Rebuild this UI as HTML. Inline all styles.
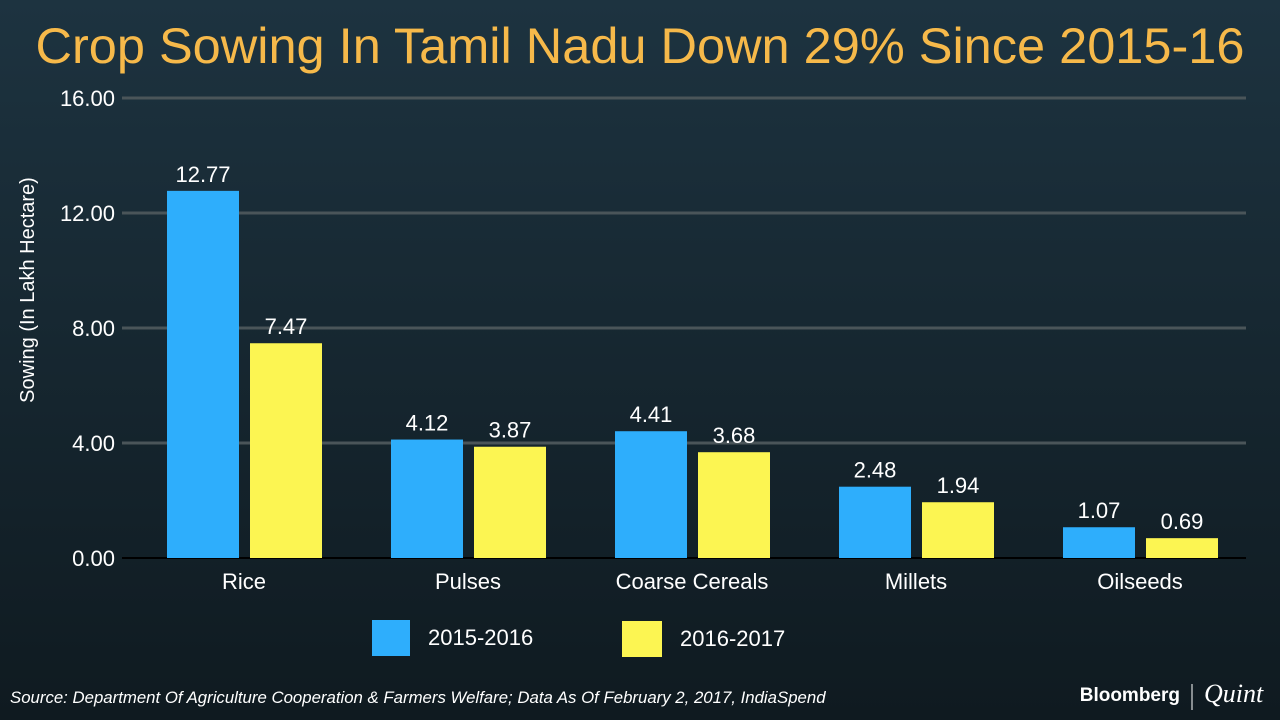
<!DOCTYPE html>
<html><head><meta charset="utf-8"><style>
html,body{margin:0;padding:0;width:1280px;height:720px;overflow:hidden}
body{background:linear-gradient(#1d3340,#0f1a20);font-family:"Liberation Sans",sans-serif}
</style></head><body>
<svg id="chart" width="1280" height="720">
<text x="640" y="63" text-anchor="middle" fill="#f6b94a" font-size="50.5">Crop Sowing In Tamil Nadu Down 29% Since 2015-16</text>
<text transform="translate(34,290) rotate(-90)" text-anchor="middle" fill="#fff" font-size="20">Sowing (In Lakh Hectare)</text>
<g id="grid"></g><g id="bars"></g>
<rect x="372" y="620" width="38" height="36" fill="#2eaefc"/>
<text x="428" y="645" fill="#fff" font-size="22">2015-2016</text>
<rect x="622" y="621" width="40" height="36" fill="#fcf552"/>
<text x="680" y="646" fill="#fff" font-size="22">2016-2017</text>
<text x="10" y="703" fill="#fff" font-size="16.8" font-style="italic">Source: Department Of Agriculture Cooperation &amp; Farmers Welfare; Data As Of February 2, 2017, IndiaSpend</text>
<text x="1180" y="701" text-anchor="end" fill="#fff" font-size="19" font-weight="bold">Bloomberg</text>
<line x1="1192" y1="684" x2="1192" y2="710" stroke="#fff" stroke-width="1"/>
<text x="1204" y="702" fill="#fff" font-size="26" font-style="italic" font-family="Liberation Serif,serif">Quint</text>
</svg>
<script>
const categories=["Rice","Pulses","Coarse Cereals","Millets","Oilseeds"];
const series2015=[12.77,4.12,4.41,2.48,1.07];
const series2016=[7.47,3.87,3.68,1.94,0.69];
const yTicks=[0,4,8,12,16];
const NS="http://www.w3.org/2000/svg";
const y0=558,yTop=98,yMax=16,x0=132,x1=1252;
const y=v=>y0-(v/yMax)*(y0-yTop);
const band=(x1-x0)/categories.length;
const cx=i=>x0+band*(i+0.5);
function mk(tag,attrs,parent,text){const e=document.createElementNS(NS,tag);for(const k in attrs)e.setAttribute(k,attrs[k]);if(text!==undefined)e.textContent=text;parent.appendChild(e);return e;}
const grid=document.getElementById('grid'),bars=document.getElementById('bars');
yTicks.forEach(t=>{
  const l=mk('line',{x1:122,x2:1246,y1:y(t),y2:y(t),stroke:t===0?'#000':'#4a5559','stroke-width':t===0?2:3},grid);
  
  
  const tx=mk('text',{x:115,y:y(t)+8,'text-anchor':'end',fill:'#fff','font-size':22},grid,t.toFixed(2));
  
  
});
categories.forEach((c,i)=>{
  const c0=cx(i);
  [[series2015[i],c0-77,'#2eaefc','2015'],[series2016[i],c0+6,'#fcf552','2016']].forEach(([v,x,col,s])=>{
    const r=mk('rect',{x:x,y:y(v),width:72,height:y0-y(v),fill:col},bars);
    
    
    const t=mk('text',{x:x+36,y:y(v)-9,'text-anchor':'middle',fill:'#fff','font-size':22},bars,v.toFixed(2));
    
    
  });
  const lb=mk('text',{x:c0,y:589,'text-anchor':'middle',fill:'#fff','font-size':22},bars,c);
  
  
});
</script>
</body></html>
